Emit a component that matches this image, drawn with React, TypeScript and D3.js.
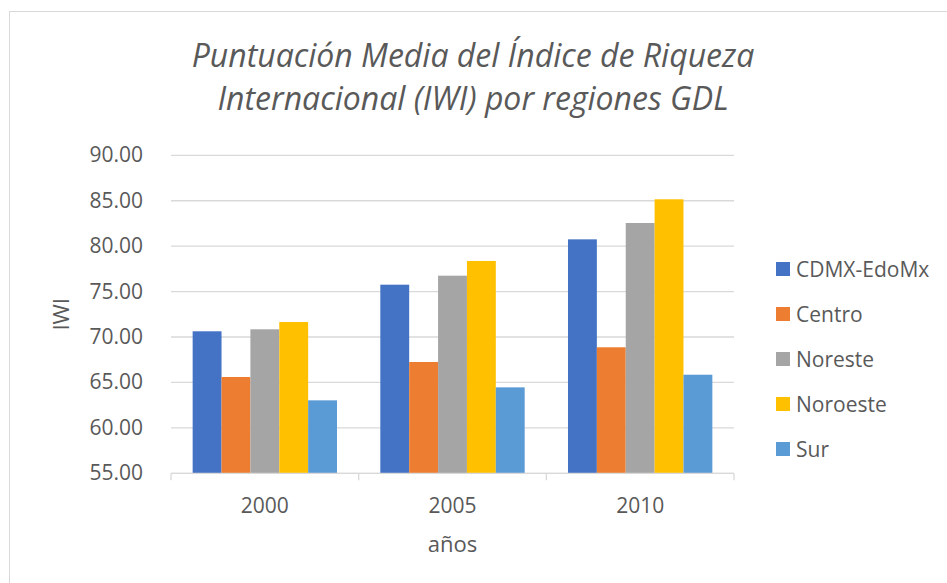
import * as d3 from "d3";

const years = ["2000", "2005", "2010"];
const regions = ["CDMX-EdoMx", "Centro", "Noreste", "Noroeste", "Sur"];
const colors = ["#4472C4", "#ED7D31", "#A5A5A5", "#FFC000", "#5B9BD5"];
// one row per year, one value per region
const values = [
  [70.63, 65.6, 70.85, 71.65, 63.03],
  [75.76, 67.25, 76.75, 78.37, 64.46],
  [80.75, 68.87, 82.55, 85.16, 65.85],
];
const yTicks = [55, 60, 65, 70, 75, 80, 85, 90];

const W = 947;
const H = 583;
const TEXT = "#595959";
const FONT = "'Open Sans', sans-serif";

export default function App() {
  const left = 171;
  const right = 734;
  const top = 155.3;
  const bottom = 473.3;

  const x = d3.scaleBand().domain(years).range([left, right]).padding(0);
  const xs = d3
    .scaleBand()
    .domain(regions)
    .range([0, x.bandwidth()])
    .paddingInner(0)
    .paddingOuter(0.75);
  const y = d3.scaleLinear().domain([55, 90]).range([bottom, top]);

  return (
    <svg
      width={W}
      height={H}
      style={{ position: "absolute", left: 0, top: 0, background: "#fff" }}
      fontFamily={FONT}
    >
      <rect x={9.5} y={11.5} width={960} height={600} fill="#fff" stroke="#D9D9D9" />

      <text textAnchor="middle" fill={TEXT} fontSize={32} fontStyle="italic" fontWeight={400}>
        <tspan x={473} y={67}>Puntuación Media del Índice de Riqueza</tspan>
        <tspan x={473} y={110}>Internacional (IWI) por regiones GDL</tspan>
      </text>

      {/* gridlines */}
      {yTicks.map((t) => (
        <line key={t} x1={left} x2={right} y1={y(t)} y2={y(t)} stroke="#D9D9D9" strokeWidth={1.3} />
      ))}

      {/* y tick labels */}
      {yTicks.map((t) => (
        <text key={t} x={143} y={y(t) + 7} textAnchor="end" fill={TEXT} fontSize={21}>
          {d3.format(".2f")(t)}
        </text>
      ))}

      {/* bars */}
      {years.map((yr, i) => (
        <g key={yr} transform={`translate(${x(yr)},0)`}>
          {regions.map((r, j) => (
            <rect
              key={r}
              x={xs(r)}
              y={y(values[i][j])}
              width={xs.bandwidth()}
              height={bottom - y(values[i][j])}
              fill={colors[j]}
            />
          ))}
        </g>
      ))}

      {/* x axis */}
      <line x1={left} x2={right} y1={bottom} y2={bottom} stroke="#D9D9D9" strokeWidth={1.3} />
      {[...years.map((yr) => x(yr) as number), right].map((v, i) => (
        <line key={i} x1={v} x2={v} y1={bottom} y2={bottom + 7} stroke="#D9D9D9" strokeWidth={1.3} />
      ))}
      {years.map((yr) => (
        <text
          key={yr}
          x={(x(yr) as number) + x.bandwidth() / 2}
          y={513}
          textAnchor="middle"
          fill={TEXT}
          fontSize={21}
        >
          {yr}
        </text>
      ))}

      <text x={(left + right) / 2} y={552} textAnchor="middle" fill={TEXT} fontSize={22}>
        años
      </text>
      <text
        transform={`translate(69,${(top + bottom) / 2}) rotate(-90)`}
        textAnchor="middle"
        fill={TEXT}
        fontSize={22}
      >
        IWI
      </text>

      {/* legend */}
      {regions.map((r, j) => (
        <g key={r} transform={`translate(776,${269 + j * 45})`}>
          <rect x={0} y={-7} width={14} height={14} fill={colors[j]} />
          <text x={20} y={7.5} fill={TEXT} fontSize={21}>
            {r}
          </text>
        </g>
      ))}
    </svg>
  );
}
